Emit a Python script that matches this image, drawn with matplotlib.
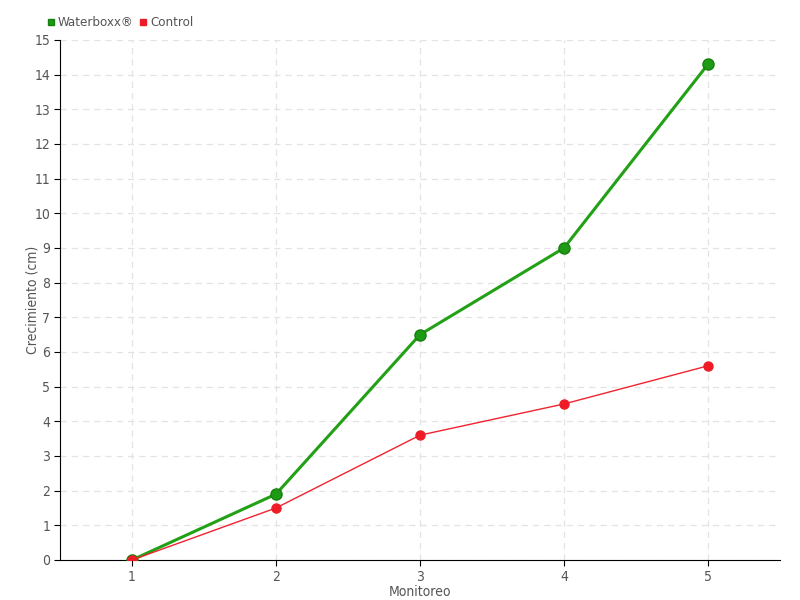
import numpy as np
import matplotlib.pyplot as plt

monitoreo = [1, 2, 3, 4, 5]
waterboxx = [0, 1.9, 6.5, 9.0, 14.3]
control = [0, 1.5, 3.6, 4.5, 5.6]

plt.rcParams['font.family'] = ['DejaVu Sans']
plt.rcParams['font.stretch'] = 'condensed'
text_col = '#555555'

fig = plt.figure(figsize=(8, 6), dpi=100)
ax = fig.add_axes([0.075, 0.0667, 0.9, 0.8667])

ax.plot(monitoreo, waterboxx, color='#22a016', lw=2.2, marker='o', ms=8,
        markerfacecolor='#1e9a14', markeredgecolor='#17800f', label='Waterboxx®', zorder=3)
ax.plot(monitoreo, control, color='#f0242f', lw=1, marker='o', ms=6.5,
        markerfacecolor='#ee1c27', markeredgecolor='#ee1c27', label='Control', zorder=4)

ax.set_xlim(0.5, 5.5)
ax.set_ylim(0, 15)
ax.set_xticks(monitoreo)
ax.set_yticks(np.arange(0, 16, 1))
ax.grid(True, color='#e3e3e3', linestyle=(0, (5, 4)), lw=0.9)
ax.set_axisbelow(True)
for s in ['top', 'right']:
    ax.spines[s].set_visible(False)
ax.spines['left'].set_color('black')
ax.spines['bottom'].set_color('black')
ax.tick_params(colors='black', labelcolor=text_col, labelsize=10, length=4, pad=3)

ax.set_xlabel('Monitoreo', color=text_col, fontsize=10, labelpad=1)
ax.set_ylabel('Crecimiento (cm)', color=text_col, fontsize=10, labelpad=-4)

leg = ax.legend(loc='lower left', bbox_to_anchor=(-0.025, 1.01), ncol=2, frameon=False,
                fontsize=9.5, handlelength=0.5, handletextpad=0.3, columnspacing=0.5,
                borderaxespad=0)
for h, c in zip(leg.legend_handles, ['#1e9a14', '#ee1c27']):
    h.set_linestyle('')
    h.set_marker('s')
    h.set_markersize(5)
for t in leg.get_texts():
    t.set_color(text_col)

fig.savefig('out.png', dpi=100)
